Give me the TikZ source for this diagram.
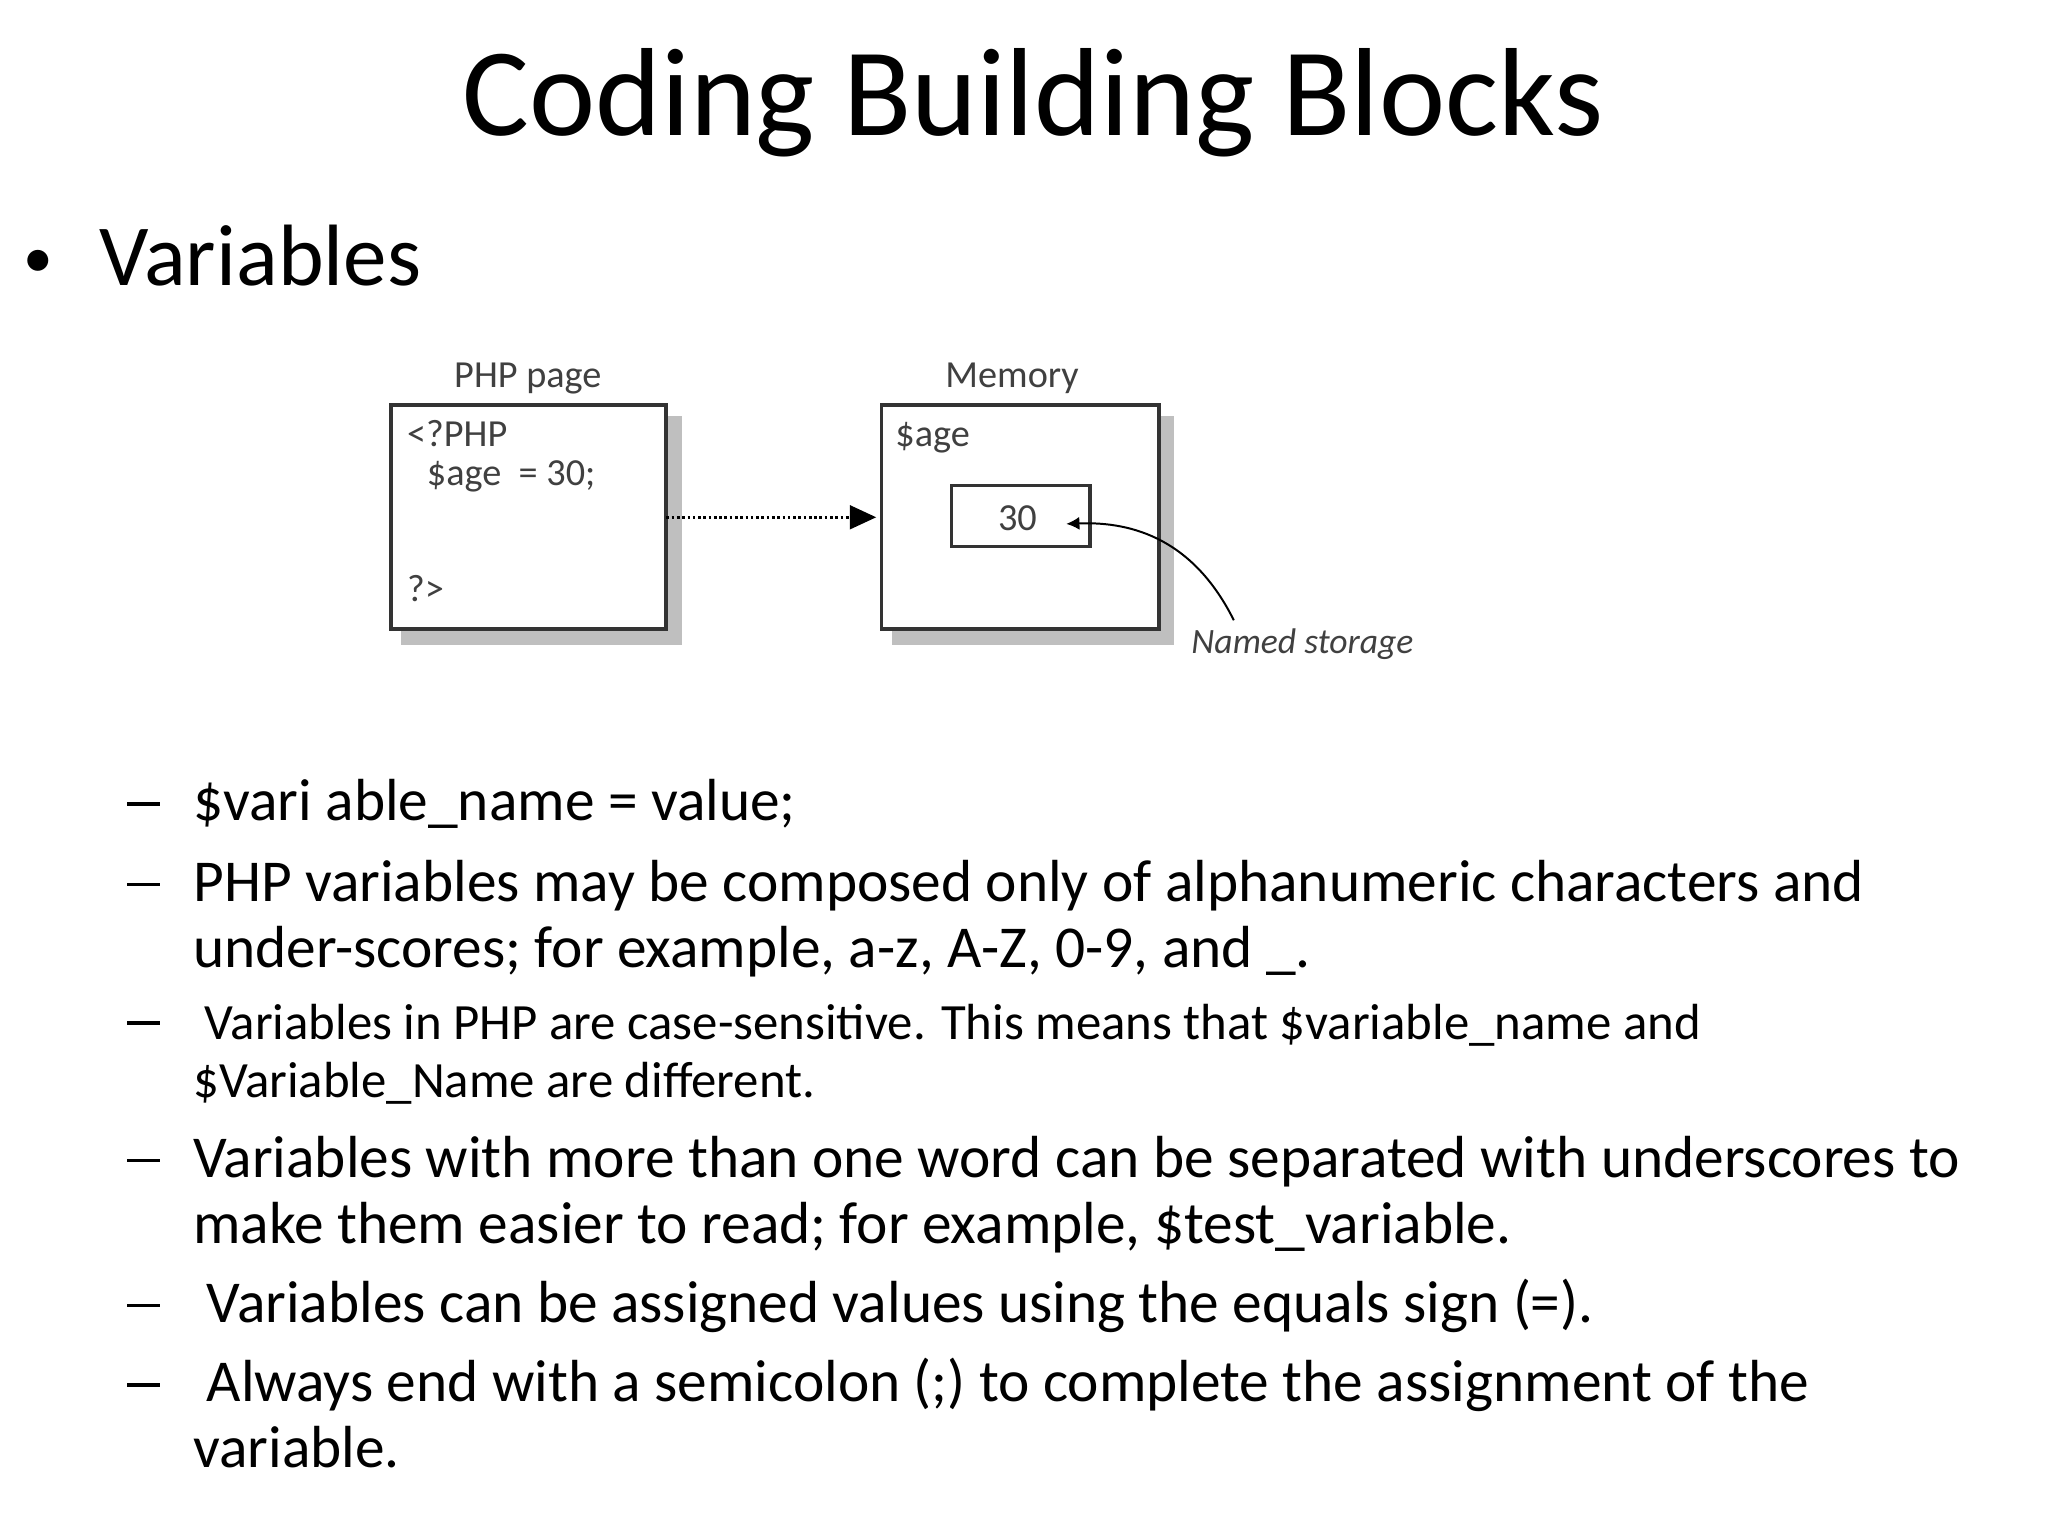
\documentclass[tikz,border=0pt]{standalone}
\usepackage{fontspec}
\setmainfont{Carlito}
\usetikzlibrary{arrows.meta}
\begin{document}
\begin{tikzpicture}[x=1pt,y=-1pt,
  box/.style={draw=black!80,line width=3pt,fill=white},
  body/.style={anchor=base west,font=\fontsize{45}{54}\selectfont},
  small/.style={anchor=base west,font=\fontsize{38.5}{46}\selectfont},
  dashmark/.style={anchor=base west,font=\fontsize{45}{54}\selectfont},
  diag/.style={font=\fontsize{29}{34}\selectfont,text=black!75}]
\useasboundingbox (0,0) rectangle (1552,1164);
\node[anchor=base,font=\fontsize{95}{100}\selectfont] (title) at (783,103) {Coding Building Blocks};
\node[anchor=base west,font=\fontsize{45}{50}\selectfont] (bul) at (14,210) {\textbullet};
\node[anchor=base west,font=\fontsize{66}{70}\selectfont] (var) at (72,216) {Variables};
% diagram
\fill[black!25] (304,315) rectangle (517,489);
\fill[black!25] (676,315) rectangle (890,489);
\draw[box] (296,307) rectangle (505,477);
\draw[box] (668,307) rectangle (878,477);
\coordinate (p1) at (505,392); \coordinate (m1) at (664,392);
\node[diag] (lp) at (400,287) {PHP page};
\node[diag] (lm) at (767,287) {Memory};
\node[diag,anchor=base west] (c1) at (305,338) {<?PHP};
\node[diag,anchor=base west] (c2) at (320,368) {\$age\ \ =\ 30;};
\node[diag,anchor=base west] (c3) at (305,456) {?>};
\node[diag,anchor=base west] (c4) at (675,338) {\$age};
\node[draw=black!80,line width=2.5pt,minimum width=105pt,minimum height=46pt] (in) at (773.5,391) {};
\node[diag] (v30) at (771,393) {30};
\draw[line width=2pt,dotted,-{Triangle[length=20pt,width=18pt]}] (p1) -- (m1);
\coordinate (nsend) at (935,470);
\draw[line width=1.5pt,-{Latex[length=10pt,width=10pt]}] (nsend) .. controls (905,410) and (860,395) .. (808,397);
\node[diag,font=\fontsize{27}{30}\selectfont\itshape] (ns) at (987,488) {Named storage};
% text
\node[dashmark] (d1) at (93,622) {\rule[0.25em]{0.55em}{0.06em}};
\node[body] (t1) at (143,622) {\$vari able\_name = value;};
\node[dashmark] (d2) at (93,683) {\rule[0.25em]{0.55em}{0.06em}};
\node[body] (t2) at (143,683) {PHP variables may be composed only of alphanumeric characters and};
\node[body] (t2b) at (143,733) {under-scores; for example, a-z, A-Z, 0-9, and \_.};
\node[dashmark] (d3) at (93,788) {\rule[0.25em]{0.55em}{0.06em}};
\node[small] (t3) at (143,788) {\ Variables in PHP are case-sensitive. This means that \$variable\_name and};
\node[small] (t3b) at (143,832) {\$Variable\_Name are different.};
\node[dashmark] (d4) at (93,892) {\rule[0.25em]{0.55em}{0.06em}};
\node[body] (t4) at (143,892) {Variables with more than one word can be separated with underscores to};
\node[body] (t4b) at (143,942) {make them easier to read; for example, \$test\_variable.};
\node[dashmark] (d5) at (93,1002) {\rule[0.25em]{0.55em}{0.06em}};
\node[body] (t5) at (143,1002) {\ Variables can be assigned values using the equals sign (=).};
\node[dashmark] (d6) at (93,1062) {\rule[0.25em]{0.55em}{0.06em}};
\node[body] (t6) at (143,1062) {\ Always end with a semicolon (;) to complete the assignment of the};
\node[body] (t6b) at (143,1112) {variable.};
\end{tikzpicture}
\end{document}
